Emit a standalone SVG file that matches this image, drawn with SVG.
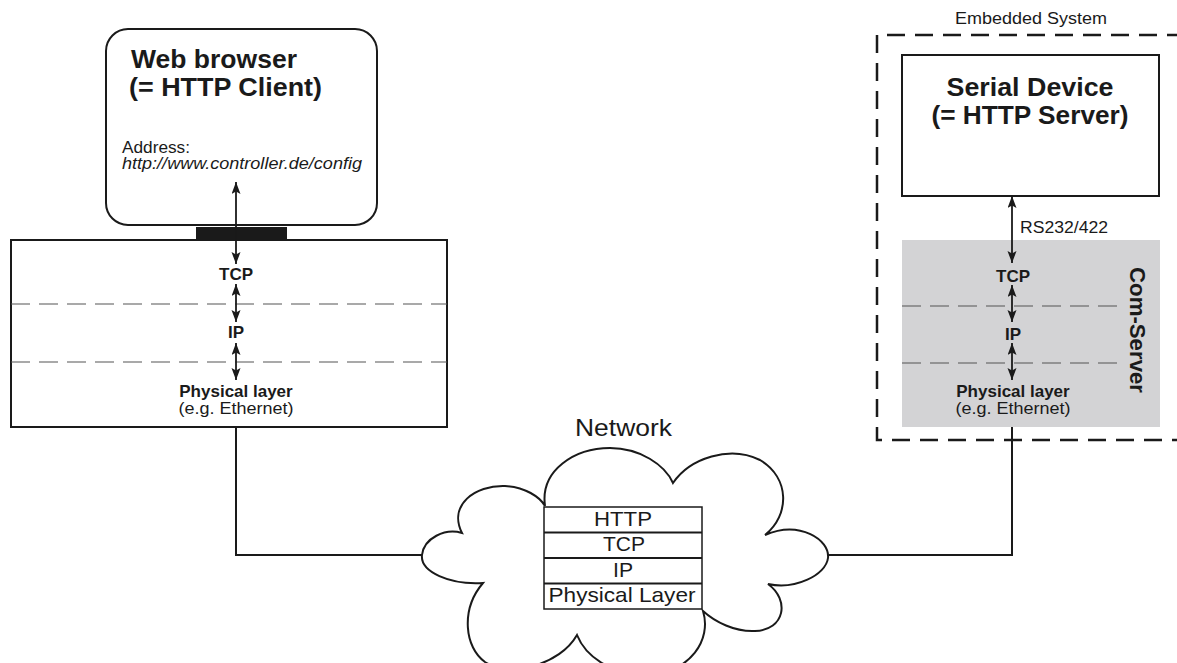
<svg xmlns="http://www.w3.org/2000/svg" width="1177" height="663" viewBox="0 0 1177 663">
<defs>
<marker id="ah" markerUnits="userSpaceOnUse" markerWidth="13" markerHeight="10" refX="12" refY="4.5" orient="auto-start-reverse">
<path d="M0,0 L12,4.5 L0,9 L2.5,4.5 z" fill="#1a1a1a"/>
</marker>
<style>
text{font-family:"Liberation Sans",Arial,sans-serif;fill:#1a1a1a}
.box{fill:#fff;stroke:#1a1a1a;stroke-width:2}
.sep{stroke:#555;stroke-width:1.2;stroke-dasharray:19 9;fill:none}
.arr{stroke:#1a1a1a;stroke-width:1.8;fill:none;marker-start:url(#ah);marker-end:url(#ah)}
.wire{stroke:#1a1a1a;stroke-width:2;fill:none}
.title{font-weight:bold;font-size:26.5px}
.lay{font-weight:bold;font-size:17px;text-anchor:middle}
.sub{font-size:16px;text-anchor:middle}
.stk{font-size:21px;text-anchor:middle}
</style>
</defs>

<g id="connectors">
<path class="wire" d="M236,427 V555 H422"/>
<path class="wire" d="M1012,427 V555 H828"/>
</g>

<g id="web-browser">
<rect class="box" x="106" y="29" width="271" height="196" rx="22" ry="22"/>
<text class="title" x="131" y="68" textLength="166" lengthAdjust="spacingAndGlyphs">Web browser</text>
<text class="title" x="129" y="96" textLength="193" lengthAdjust="spacingAndGlyphs">(= HTTP Client)</text>
<text x="122" y="153" font-size="16" textLength="68" lengthAdjust="spacingAndGlyphs">Address:</text>
<text x="122" y="169" font-size="16.5" font-style="italic" textLength="240" lengthAdjust="spacingAndGlyphs">http://www.controller.de/config</text>
</g>

<g id="client-stack">
<rect class="box" x="11" y="240" width="436" height="187"/>
<rect x="196" y="227" width="91" height="13" fill="#1a1a1a"/>
<line class="sep" x1="11" y1="304" x2="447" y2="304"/>
<line class="sep" x1="11" y1="362" x2="447" y2="362"/>
<text class="lay" x="236" y="280">TCP</text>
<text class="lay" x="236" y="338">IP</text>
<text class="lay" x="236" y="397">Physical layer</text>
<text class="sub" x="236" y="414" textLength="115" lengthAdjust="spacingAndGlyphs">(e.g. Ethernet)</text>
<line class="arr" x1="236" y1="182" x2="236" y2="264"/>
<line class="arr" x1="236" y1="284" x2="236" y2="322"/>
<line class="arr" x1="236" y1="343" x2="236" y2="380"/>
</g>

<g id="embedded-system">
<text x="1031" y="24" font-size="16" text-anchor="middle" textLength="152" lengthAdjust="spacingAndGlyphs">Embedded System</text>
<path d="M1185,35 H877 V440 H1185" fill="none" stroke="#1a1a1a" stroke-width="2.5" stroke-dasharray="18 10"/>
</g>

<g id="serial-device">
<rect class="box" x="902" y="55" width="257" height="141"/>
<text class="title" x="1030" y="96" text-anchor="middle" textLength="167" lengthAdjust="spacingAndGlyphs">Serial Device</text>
<text class="title" x="1030" y="124" text-anchor="middle" textLength="197" lengthAdjust="spacingAndGlyphs">(= HTTP Server)</text>
</g>

<g id="com-server">
<rect x="902" y="240" width="258" height="187" fill="#d3d3d5"/>
<line class="sep" x1="902" y1="306" x2="1120" y2="306"/>
<line class="sep" x1="902" y1="363" x2="1120" y2="363"/>
<text class="lay" x="1013" y="282">TCP</text>
<text class="lay" x="1013" y="340">IP</text>
<text class="lay" x="1013" y="397">Physical layer</text>
<text class="sub" x="1013" y="414" textLength="115" lengthAdjust="spacingAndGlyphs">(e.g. Ethernet)</text>
<text x="1130" y="330" font-size="22" font-weight="bold" text-anchor="middle" transform="rotate(90 1130 330)" textLength="126" lengthAdjust="spacingAndGlyphs">Com-Server</text>
<text x="1020" y="233" font-size="16" textLength="88" lengthAdjust="spacingAndGlyphs">RS232/422</text>
<line class="arr" x1="1012" y1="196" x2="1012" y2="263"/>
<line class="arr" x1="1012" y1="285" x2="1012" y2="322"/>
<line class="arr" x1="1012" y1="343" x2="1012" y2="380"/>
</g>

<g id="network">
<text x="623.5" y="436" font-size="24" text-anchor="middle" textLength="97" lengthAdjust="spacingAndGlyphs">Network</text>
<path fill="#fff" stroke="#1a1a1a" stroke-width="2" d="M462,533 C448,505 475,485 505,486 C525,487 540,497 545,506 C540,470 575,448 610,448 C640,448 665,465 673,483 C690,458 730,445 760,460 C790,478 790,515 765,535 C800,520 830,540 828,558 C826,575 795,590 768,584 C790,600 785,630 755,631 C735,632 715,622 703,611 C712,640 690,672 650,674 C610,676 585,655 577,635 C560,665 510,678 485,662 C465,648 460,610 483,583 C450,585 420,572 422,555 C424,538 445,528 462,533 Z"/>
<g id="protocol-stack">
<rect x="544" y="507" width="158" height="102" fill="#fff" stroke="#1a1a1a" stroke-width="1.5"/>
<line x1="544" y1="532.5" x2="702" y2="532.5" stroke="#1a1a1a" stroke-width="2"/>
<line x1="544" y1="558" x2="702" y2="558" stroke="#1a1a1a" stroke-width="2"/>
<line x1="544" y1="583.5" x2="702" y2="583.5" stroke="#1a1a1a" stroke-width="2"/>
<text class="stk" x="623" y="526" textLength="58" lengthAdjust="spacingAndGlyphs">HTTP</text>
<text class="stk" x="624" y="551" textLength="42" lengthAdjust="spacingAndGlyphs">TCP</text>
<text class="stk" x="623" y="577" textLength="20" lengthAdjust="spacingAndGlyphs">IP</text>
<text class="stk" x="622" y="602" textLength="147" lengthAdjust="spacingAndGlyphs">Physical Layer</text>
</g>
</g>
</svg>
